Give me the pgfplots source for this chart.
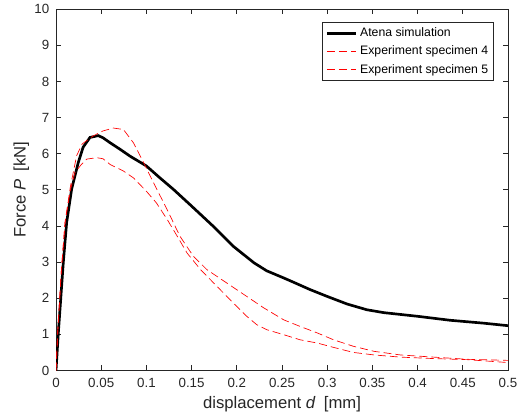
\documentclass[border=0pt]{standalone}
\usepackage{pgfplots}
\pgfplotsset{compat=1.18}
\usepackage{fontspec}
\setmainfont{Liberation Sans}
\definecolor{axgray}{RGB}{38,38,38}

\begin{document}
\begin{tikzpicture}
\begin{axis}[
  scale only axis,
  width=339pt, height=271pt,
  xmin=0, xmax=0.5, ymin=0, ymax=10,
  xtick={0,0.05,0.1,0.15,0.2,0.25,0.3,0.35,0.4,0.45,0.5},
  xticklabels={0,0.05,0.1,0.15,0.2,0.25,0.3,0.35,0.4,0.45,0.5},
  ytick={0,1,...,10},
  tick align=inside,
  major tick length=4pt,
  axis line style={axgray, line width=0.5pt},
  every tick/.style={axgray, line width=0.5pt},
  tick label style={font=\fontsize{10}{11}\selectfont, text=axgray},
  xticklabel style={yshift=-2.5pt},
  yticklabel style={xshift=-1.5pt},
  label style={font=\fontsize{12.5}{14}\selectfont, text=axgray},
  /pgf/number format/assume math mode=true,
  xlabel={displacement \textit{d}\,\,\,[mm]},
  ylabel={Force \textit{P}\,\,\,[kN]},
  xlabel style={at={(rel axis cs:0.5,-0.094)}, anchor=center},
  ylabel style={at={(rel axis cs:-0.0767,0.5)}, anchor=center},
  legend style={at={(0.969,0.964)}, anchor=north east, draw=axgray,
    line width=0.5pt, font=\fontsize{9.2}{11}\selectfont, inner sep=2pt,
    row sep=1.5pt, legend cell align=left},
  legend image code/.code={\draw[#1] (0pt,0pt) -- (22pt,0pt);},
]
\addplot[black, line width=2pt] coordinates {
(0,0) (0.0026,1.05) (0.0081,3.0) (0.0118,4.1) (0.0173,5.02) (0.0247,5.76)
(0.030,6.18) (0.0376,6.45) (0.0468,6.50) (0.052,6.44) (0.060,6.3) (0.071,6.12)
(0.082,5.93) (0.100,5.66) (0.115,5.33) (0.130,5.01) (0.150,4.55) (0.174,3.99)
(0.196,3.44) (0.208,3.20) (0.219,2.98) (0.233,2.76) (0.252,2.56) (0.263,2.44)
(0.281,2.24) (0.300,2.05) (0.322,1.84) (0.344,1.68) (0.363,1.60) (0.400,1.50)
(0.436,1.39) (0.473,1.31) (0.500,1.24)
};
\addlegendentry{Atena simulation}
\addplot[red, line width=0.5pt, dash pattern=on 6pt off 3pt] coordinates {
(0,0) (0.002,1.1) (0.006,2.8) (0.010,4.1) (0.016,5.1) (0.0229,5.95) (0.029,6.27)
(0.041,6.49) (0.052,6.63) (0.0635,6.71) (0.0746,6.67) (0.0857,6.3) (0.097,5.75)
(0.108,5.19) (0.123,4.45) (0.137,3.72) (0.152,3.16) (0.167,2.79) (0.189,2.42)
(0.211,2.05) (0.230,1.73) (0.252,1.40) (0.270,1.22) (0.289,1.04) (0.307,0.85)
(0.329,0.67) (0.352,0.53) (0.381,0.43) (0.418,0.37) (0.455,0.31) (0.500,0.28)
};
\addlegendentry{Experiment specimen 4}
\addplot[red, line width=0.5pt, dash pattern=on 6pt off 3pt] coordinates {
(0,0) (0.002,1.1) (0.006,2.8) (0.010,4.1) (0.016,5.0) (0.021,5.48) (0.028,5.70)
(0.034,5.85) (0.045,5.89) (0.052,5.86) (0.060,5.70) (0.0746,5.52) (0.0857,5.33)
(0.100,4.96) (0.111,4.64) (0.123,4.18) (0.134,3.72) (0.145,3.25) (0.160,2.79)
(0.178,2.33) (0.196,1.87) (0.211,1.50) (0.222,1.27) (0.233,1.13) (0.252,0.99)
(0.270,0.85) (0.289,0.76) (0.307,0.64) (0.329,0.50) (0.352,0.43) (0.381,0.37)
(0.418,0.33) (0.455,0.30) (0.500,0.22)
};
\addlegendentry{Experiment specimen 5}
\end{axis}
\path ([xshift=-42pt,yshift=-36pt]current axis.south west)
  rectangle ([xshift=11.25pt,yshift=5.25pt]current axis.north east);
\end{tikzpicture}
\end{document}
